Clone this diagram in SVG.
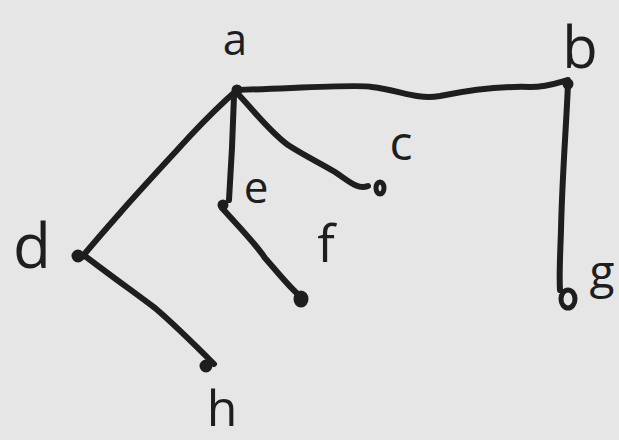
<svg xmlns="http://www.w3.org/2000/svg" width="619" height="440" viewBox="0 0 619 440">
<style>
.e{fill:none;stroke:#1e1e1e;stroke-width:6;stroke-linecap:round;stroke-linejoin:round}
.n{fill:#1e1e1e;stroke:#1e1e1e;stroke-width:3}
.o{fill:none;stroke:#1e1e1e;stroke-width:5}
.t{font-family:"Open Sans","Liberation Sans",sans-serif;fill:#1e1e1e;text-anchor:middle}
</style>
<rect width="619" height="440" fill="#e6e6e6"/>
<g id="connectors">
<path class="e" d="M237,90 C300,88 360,84 372,87 C400,90 415,100 440,96 C470,90 500,86 530,87 C548,87 560,82 568,80"/>
<path class="e" d="M568,84 C566,130 562,180 561,230 C560,260 559,275 560,290"/>
<path class="e" d="M237,90 C220,105 205,120 190,136 C170,158 140,190 120,213 C105,230 92,245 82,257"/>
<path class="e" d="M85,256 C110,275 135,293 155,308 C175,325 192,342 214,364"/>
<path class="e" d="M234,96 C233,130 231,170 229,200"/>
<path class="e" d="M222,208 C240,228 255,243 265,258 C280,275 290,288 300,296"/>
<path class="e" d="M238,94 C255,112 270,132 288,145 C305,156 320,163 335,172 C350,182 358,190 368,186"/>
</g>
<g id="node-a"><circle class="n" cx="237" cy="90" r="4"/><text class="t" x="235" y="55" font-size="44">a</text></g>
<g id="node-b"><circle class="n" cx="568" cy="84" r="4"/><text class="t" x="580" y="68" font-size="58">b</text></g>
<g id="node-c"><ellipse class="o" cx="380" cy="188" rx="4" ry="6"/><text class="t" x="401" y="160" font-size="48">c</text></g>
<g id="node-d"><circle class="n" cx="78" cy="256" r="5"/><text class="t" x="32" y="268" font-size="62">d</text></g>
<g id="node-e"><circle class="n" cx="223" cy="205" r="4"/><text class="t" x="256" y="203" font-size="44">e</text></g>
<g id="node-f"><ellipse class="n" cx="301" cy="299" rx="6" ry="7"/><text class="t" x="326" y="262" font-size="52">f</text></g>
<g id="node-g"><ellipse class="o" cx="568" cy="299" rx="7" ry="9"/><text class="t" x="602" y="288" font-size="46">g</text></g>
<g id="node-h"><circle class="n" cx="206" cy="366" r="5"/><text class="t" x="222" y="426" font-size="50">h</text></g>
</svg>
